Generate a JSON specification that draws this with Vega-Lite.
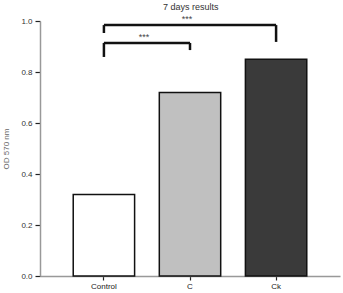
{
  "$schema": "https://vega.github.io/schema/vega-lite/v6.json",
  "width": 300,
  "height": 255,
  "autosize": {"type": "none"},
  "padding": {"left": 40, "top": 21, "right": 3, "bottom": 17},
  "background": "white",
  "title": {
    "text": "7 days results",
    "fontSize": 9,
    "font": "Liberation Sans",
    "fontWeight": "normal",
    "color": "#333333",
    "anchor": "start",
    "frame": "group",
    "dx": 123,
    "offset": 3
  },
  "config": {
    "view": {"stroke": null},
    "font": "Liberation Sans"
  },
  "datasets": {
    "bars": [
      {"group": "Control", "od": 0.32, "shade": "white"},
      {"group": "C", "od": 0.72, "shade": "light"},
      {"group": "Ck", "od": 0.85, "shade": "dark"}
    ],
    "spans": [
      {"from": "Control", "to": "Ck", "y": 0.984},
      {"from": "Control", "to": "C", "y": 0.914}
    ],
    "legs": [
      {"at": "Control", "y": 0.984, "y2": 0.953},
      {"at": "Ck", "y": 0.984, "y2": 0.918},
      {"at": "Control", "y": 0.914, "y2": 0.859},
      {"at": "C", "y": 0.914, "y2": 0.886}
    ],
    "starsWide": [
      {"at": "C", "y": 1.008, "label": "***"}
    ],
    "starsNarrow": [
      {"at": "Control", "y": 0.937, "label": "***"}
    ]
  },
  "layer": [
    {
      "data": {"name": "bars"},
      "mark": {"type": "bar", "stroke": "#111111", "strokeWidth": 1.5},
      "encoding": {
        "x": {
          "field": "group",
          "type": "nominal",
          "scale": {"domain": ["Control", "C", "Ck"], "paddingInner": 0.287, "paddingOuter": 0.386},
          "axis": {
            "title": null,
            "labelAngle": 0,
            "labelFontSize": 8,
            "labelColor": "#222222",
            "labelPadding": 2,
            "domainColor": "#999999",
            "domainWidth": 1.5,
            "tickColor": "#222222",
            "tickSize": 4,
            "tickWidth": 1.2
          }
        },
        "y": {
          "field": "od",
          "type": "quantitative",
          "scale": {"domain": [0, 1], "nice": false},
          "axis": {
            "title": "OD 570 nm",
            "titleFontSize": 8,
            "titleFontWeight": "normal",
            "titleColor": "#666666",
            "titlePadding": 10,
            "values": [0, 0.1, 0.2, 0.3, 0.4, 0.5, 0.6, 0.7, 0.8, 0.9, 1.0],
            "labelExpr": "round(datum.value * 10) % 2 === 0 ? format(datum.value, '.1f') : ''",
            "labelFontSize": 8,
            "labelColor": "#333333",
            "labelPadding": 3,
            "grid": false,
            "domainColor": "#999999",
            "domainWidth": 1.5,
            "tickColor": "#222222",
            "tickWidth": 1.2,
            "tickSize": {"condition": {"test": "round(datum.value * 10) % 2 === 0", "value": 5}, "value": 2}
          }
        },
        "fill": {
          "field": "shade",
          "type": "nominal",
          "scale": {"domain": ["white", "light", "dark"], "range": ["#ffffff", "#c0c0c0", "#3a3a3a"]},
          "legend": null
        }
      }
    },
    {
      "data": {"name": "spans"},
      "mark": {"type": "rule", "strokeWidth": 2.5, "color": "#111111"},
      "encoding": {
        "x": {"field": "from", "type": "nominal"},
        "x2": {"field": "to"},
        "y": {"field": "y", "type": "quantitative"}
      }
    },
    {
      "data": {"name": "legs"},
      "mark": {"type": "rule", "strokeWidth": 2.5, "color": "#111111"},
      "encoding": {
        "x": {"field": "at", "type": "nominal"},
        "y": {"field": "y", "type": "quantitative"},
        "y2": {"field": "y2"}
      }
    },
    {
      "data": {"name": "starsWide"},
      "mark": {"type": "text", "fontSize": 9, "color": "#444444", "dx": -3},
      "encoding": {
        "x": {"field": "at", "type": "nominal"},
        "y": {"field": "y", "type": "quantitative"},
        "text": {"field": "label"}
      }
    },
    {
      "data": {"name": "starsNarrow"},
      "mark": {"type": "text", "fontSize": 9, "color": "#444444", "dx": 40},
      "encoding": {
        "x": {"field": "at", "type": "nominal"},
        "y": {"field": "y", "type": "quantitative"},
        "text": {"field": "label"}
      }
    }
  ]
}
